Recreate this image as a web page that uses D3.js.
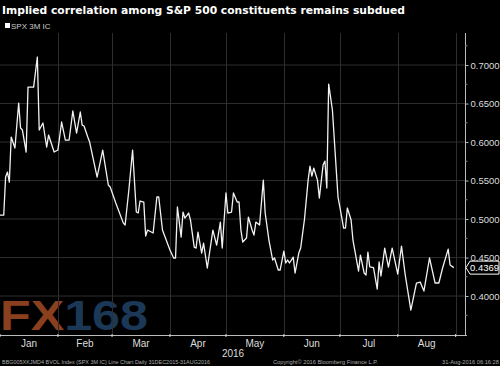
<!DOCTYPE html>
<html>
<head>
<meta charset="utf-8">
<script src="https://cdn.jsdelivr.net/npm/d3@7"></script>
<style>
  body { margin: 0; background: #000; }
  svg { display: block; }
</style>
</head>
<body>
<div id="container"></div>
<script>
/* DATA */
const dates = [
  "2016-01-01","2016-01-03","2016-01-04","2016-01-05","2016-01-06","2016-01-07","2016-01-09","2016-01-11",
  "2016-01-12","2016-01-13","2016-01-15","2016-01-16","2016-01-19","2016-01-21","2016-01-22","2016-01-24",
  "2016-01-26","2016-01-27","2016-01-30","2016-02-01","2016-02-03","2016-02-05","2016-02-07","2016-02-09",
  "2016-02-11","2016-02-13","2016-02-14","2016-02-15","2016-02-17","2016-02-18","2016-02-22","2016-02-25",
  "2016-02-28","2016-02-29","2016-03-03","2016-03-07","2016-03-08","2016-03-10","2016-03-12","2016-03-14",
  "2016-03-15","2016-03-16","2016-03-18","2016-03-19","2016-03-20","2016-03-23","2016-03-25","2016-03-26",
  "2016-03-28","2016-03-30","2016-04-01","2016-04-03","2016-04-04","2016-04-05","2016-04-07","2016-04-08",
  "2016-04-09","2016-04-11","2016-04-12","2016-04-14","2016-04-15","2016-04-16","2016-04-18","2016-04-19",
  "2016-04-21","2016-04-24","2016-04-26","2016-04-28","2016-04-29","2016-05-01","2016-05-02","2016-05-04",
  "2016-05-05","2016-05-07","2016-05-08","2016-05-09","2016-05-10","2016-05-12","2016-05-13","2016-05-15",
  "2016-05-16","2016-05-17","2016-05-19","2016-05-21","2016-05-22","2016-05-24","2016-05-26","2016-05-27",
  "2016-05-29","2016-05-30","2016-06-01","2016-06-02","2016-06-03","2016-06-04","2016-06-06","2016-06-07",
  "2016-06-09","2016-06-10","2016-06-12","2016-06-14","2016-06-15","2016-06-16","2016-06-17","2016-06-19",
  "2016-06-20","2016-06-22","2016-06-23","2016-06-24","2016-06-25","2016-06-27","2016-06-30","2016-07-01",
  "2016-07-03","2016-07-04","2016-07-05","2016-07-07","2016-07-08","2016-07-11","2016-07-12","2016-07-14",
  "2016-07-15","2016-07-16","2016-07-17","2016-07-19","2016-07-21","2016-07-22","2016-07-23","2016-07-25",
  "2016-07-27","2016-07-29","2016-08-01","2016-08-03","2016-08-05","2016-08-08","2016-08-11","2016-08-13",
  "2016-08-15","2016-08-18","2016-08-21","2016-08-23","2016-08-25","2016-08-28","2016-08-29","2016-08-31"
]
const values = [
  0.505,0.505,0.5545,0.561,0.548,0.6065,0.5922,0.6506,
  0.6182,0.6156,0.587,0.6714,0.6714,0.7104,0.6156,0.6247,
  0.5935,0.6091,0.587,0.5896,0.626,0.6026,0.6026,0.6403,
  0.6117,0.639,0.622,0.6208,0.6065,0.600,0.5545,0.5896,
  0.5442,0.5416,0.5208,0.495,0.4922,0.5377,0.5896,0.5091,
  0.5078,0.5234,0.5221,0.4779,0.4857,0.4818,0.5286,0.5286,
  0.4857,0.4727,0.4597,0.4494,0.4494,0.5156,0.4766,0.5091,
  0.5013,0.5078,0.4987,0.4636,0.4623,0.4831,0.4558,0.4688,
  0.4364,0.4857,0.4662,0.4961,0.4623,0.5338,0.5078,0.5091,
  0.5338,0.5221,0.5221,0.4857,0.4701,0.4753,0.5026,0.4857,
  0.4792,0.4961,0.4922,0.5506,0.5078,0.4727,0.4468,0.4494,
  0.4338,0.4338,0.4584,0.4429,0.4468,0.4429,0.4506,0.4299,
  0.4558,0.4623,0.4987,0.5506,0.5688,0.5558,0.5662,0.5506,
  0.5273,0.5701,0.5753,0.5403,0.6753,0.6416,0.5286,0.5156,
  0.4883,0.4883,0.5143,0.4987,0.4727,0.4325,0.4532,0.4299,
  0.4273,0.4571,0.438,0.437,0.4091,0.4442,0.426,0.4623,
  0.4377,0.4623,0.4286,0.4649,0.4273,0.3818,0.4169,0.4182,
  0.4065,0.4494,0.4169,0.4169,0.4364,0.461,0.4403,0.4369
]
const yTicks = [0.40, 0.45, 0.50, 0.55, 0.60, 0.65, 0.70]
const monthStarts = ["2016-01-01","2016-02-01","2016-03-01","2016-04-01","2016-05-01",
  "2016-06-01","2016-07-01","2016-08-01","2016-09-01"]
const monthLabels = ["Jan","Feb","Mar","Apr","May","Jun","Jul","Aug"]
const lastValue = 0.4369

/* CONSTANTS */
const width = 500, height = 366
const plotLeft = 0, plotRight = 465, plotTop = 33, plotBottom = 335
const parse = d3.timeParse("%Y-%m-%d")
const data = dates.map((d, i) => ({ date: parse(d), value: values[i] }))

const svg = d3.select("#container").append("svg")
  .attr("width", width).attr("height", height)
  .style("font-family", "'Liberation Sans', Arial, sans-serif")

svg.append("rect").attr("width", width).attr("height", height).attr("fill", "#000")

// scales
const xScale = d3.scaleTime()
  .domain([parse("2016-01-01"), parse("2016-09-06")])
  .range([plotLeft, plotRight])
const yScale = d3.scaleLinear()
  .domain([0.3494, 0.7416])
  .range([plotBottom, plotTop])

// watermark
const wm = svg.append("text")
  .attr("x", 0).attr("y", 330)
  .attr("font-size", 42).attr("font-weight", "bold")
  .attr("textLength", 148).attr("lengthAdjust", "spacingAndGlyphs")
wm.append("tspan").attr("fill", "#8a3f1e").text("FX")
wm.append("tspan").attr("fill", "#1c3857").text("168")

// gridlines
svg.append("g").selectAll("line")
  .data(yTicks)
  .join("line")
  .attr("x1", plotLeft).attr("x2", plotRight)
  .attr("y1", d => yScale(d)).attr("y2", d => yScale(d))
  .attr("stroke", "#2e2e2e").attr("stroke-width", 1)

svg.append("g").selectAll("line")
  .data(monthStarts.slice(1))
  .join("line")
  .attr("x1", d => Math.round(xScale(parse(d))) + 0.5)
  .attr("x2", d => Math.round(xScale(parse(d))) + 0.5)
  .attr("y1", plotTop).attr("y2", plotBottom)
  .attr("stroke", "#2e2e2e").attr("stroke-width", 1)

// line
const line = d3.line()
  .x(d => xScale(d.date))
  .y(d => yScale(d.value))

svg.append("path")
  .datum(data)
  .attr("fill", "none")
  .attr("stroke", "#f2f2f2")
  .attr("stroke-width", 1.3)
  .attr("stroke-linejoin", "round")
  .attr("d", line)

// right axis
const yAxis = d3.axisRight(yScale)
  .tickValues(yTicks)
  .tickFormat(d3.format(".4f"))
  .tickSize(3)
  .tickPadding(2)

const gy = svg.append("g")
  .attr("transform", `translate(${plotRight + 0.5},0)`)
  .call(yAxis)
gy.select(".domain").attr("stroke", "#bbb").attr("d", `M0,${plotTop}V${plotBottom}`)
gy.selectAll(".tick line").attr("stroke", "#bbb")
gy.selectAll(".tick text").attr("fill", "#ddd").attr("font-size", 9.5)

// minor ticks
svg.append("g").selectAll("line")
  .data(yTicks.map(d => d + 0.025).concat([0.375]))
  .join("line")
  .attr("x1", plotRight).attr("x2", plotRight + 2.5)
  .attr("y1", d => yScale(d)).attr("y2", d => yScale(d))
  .attr("stroke", "#888")

// bottom axis
svg.append("line")
  .attr("x1", plotLeft).attr("x2", plotRight + 2)
  .attr("y1", plotBottom + 0.5).attr("y2", plotBottom + 0.5)
  .attr("stroke", "#bbb")

svg.append("g").selectAll("line")
  .data(monthStarts)
  .join("line")
  .attr("x1", d => xScale(parse(d))).attr("x2", d => xScale(parse(d)))
  .attr("y1", plotBottom - 1).attr("y2", plotBottom + 2)
  .attr("stroke", "#ddd")

svg.append("g").selectAll("text")
  .data(monthLabels)
  .join("text")
  .attr("x", (d, i) => (xScale(parse(monthStarts[i])) + xScale(parse(monthStarts[i + 1]))) / 2)
  .attr("y", 347)
  .attr("text-anchor", "middle")
  .attr("fill", "#ddd")
  .attr("font-size", 10)
  .text(d => d)

svg.append("text")
  .attr("x", 233).attr("y", 357)
  .attr("text-anchor", "middle")
  .attr("fill", "#ddd").attr("font-size", 10)
  .text("2016")

// last value label
const ly = yScale(lastValue)
svg.append("path")
  .attr("d", `M${plotRight + 1},${ly} L${plotRight + 5},${ly - 6.5} H${width - 1} V${ly + 6.5} H${plotRight + 5} Z`)
  .attr("fill", "#000").attr("stroke", "#fff").attr("stroke-width", 1)
svg.append("text")
  .attr("x", plotRight + 5).attr("y", ly + 3.5)
  .attr("fill", "#fff").attr("font-size", 9.5)
  .text(d3.format(".4f")(lastValue))

// title and legend
svg.append("text")
  .attr("x", 2).attr("y", 14)
  .attr("fill", "#fff")
  .attr("font-family", "'DejaVu Sans', Verdana, sans-serif")
  .attr("font-weight", "bold").attr("font-size", 11)
  .attr("textLength", 403).attr("lengthAdjust", "spacingAndGlyphs")
  .text("Implied correlation among S&P 500 constituents remains subdued")

svg.append("rect")
  .attr("x", 5).attr("y", 23).attr("width", 5).attr("height", 5)
  .attr("fill", "#fff")
svg.append("text")
  .attr("x", 11).attr("y", 28.5)
  .attr("fill", "#ccc").attr("font-size", 8)
  .text("SPX 3M IC")

// footer
const foot = svg.append("g").attr("fill", "#aaa").attr("font-size", 5.5)
foot.append("text").attr("x", 2).attr("y", 364)
  .attr("textLength", 208).attr("lengthAdjust", "spacingAndGlyphs")
  .text("BBG005XKJMD4 BVOL Index (SPX 3M IC) Line Chart  Daily 31DEC2015-31AUG2016")
foot.append("text").attr("x", 273).attr("y", 364)
  .attr("textLength", 105).attr("lengthAdjust", "spacingAndGlyphs")
  .text("Copyright\u00A9 2016 Bloomberg Finance L.P.")
foot.append("text").attr("x", 442).attr("y", 364)
  .attr("textLength", 57).attr("lengthAdjust", "spacingAndGlyphs")
  .text("31-Aug-2016 06:16:28")
</script>
</body>
</html>
